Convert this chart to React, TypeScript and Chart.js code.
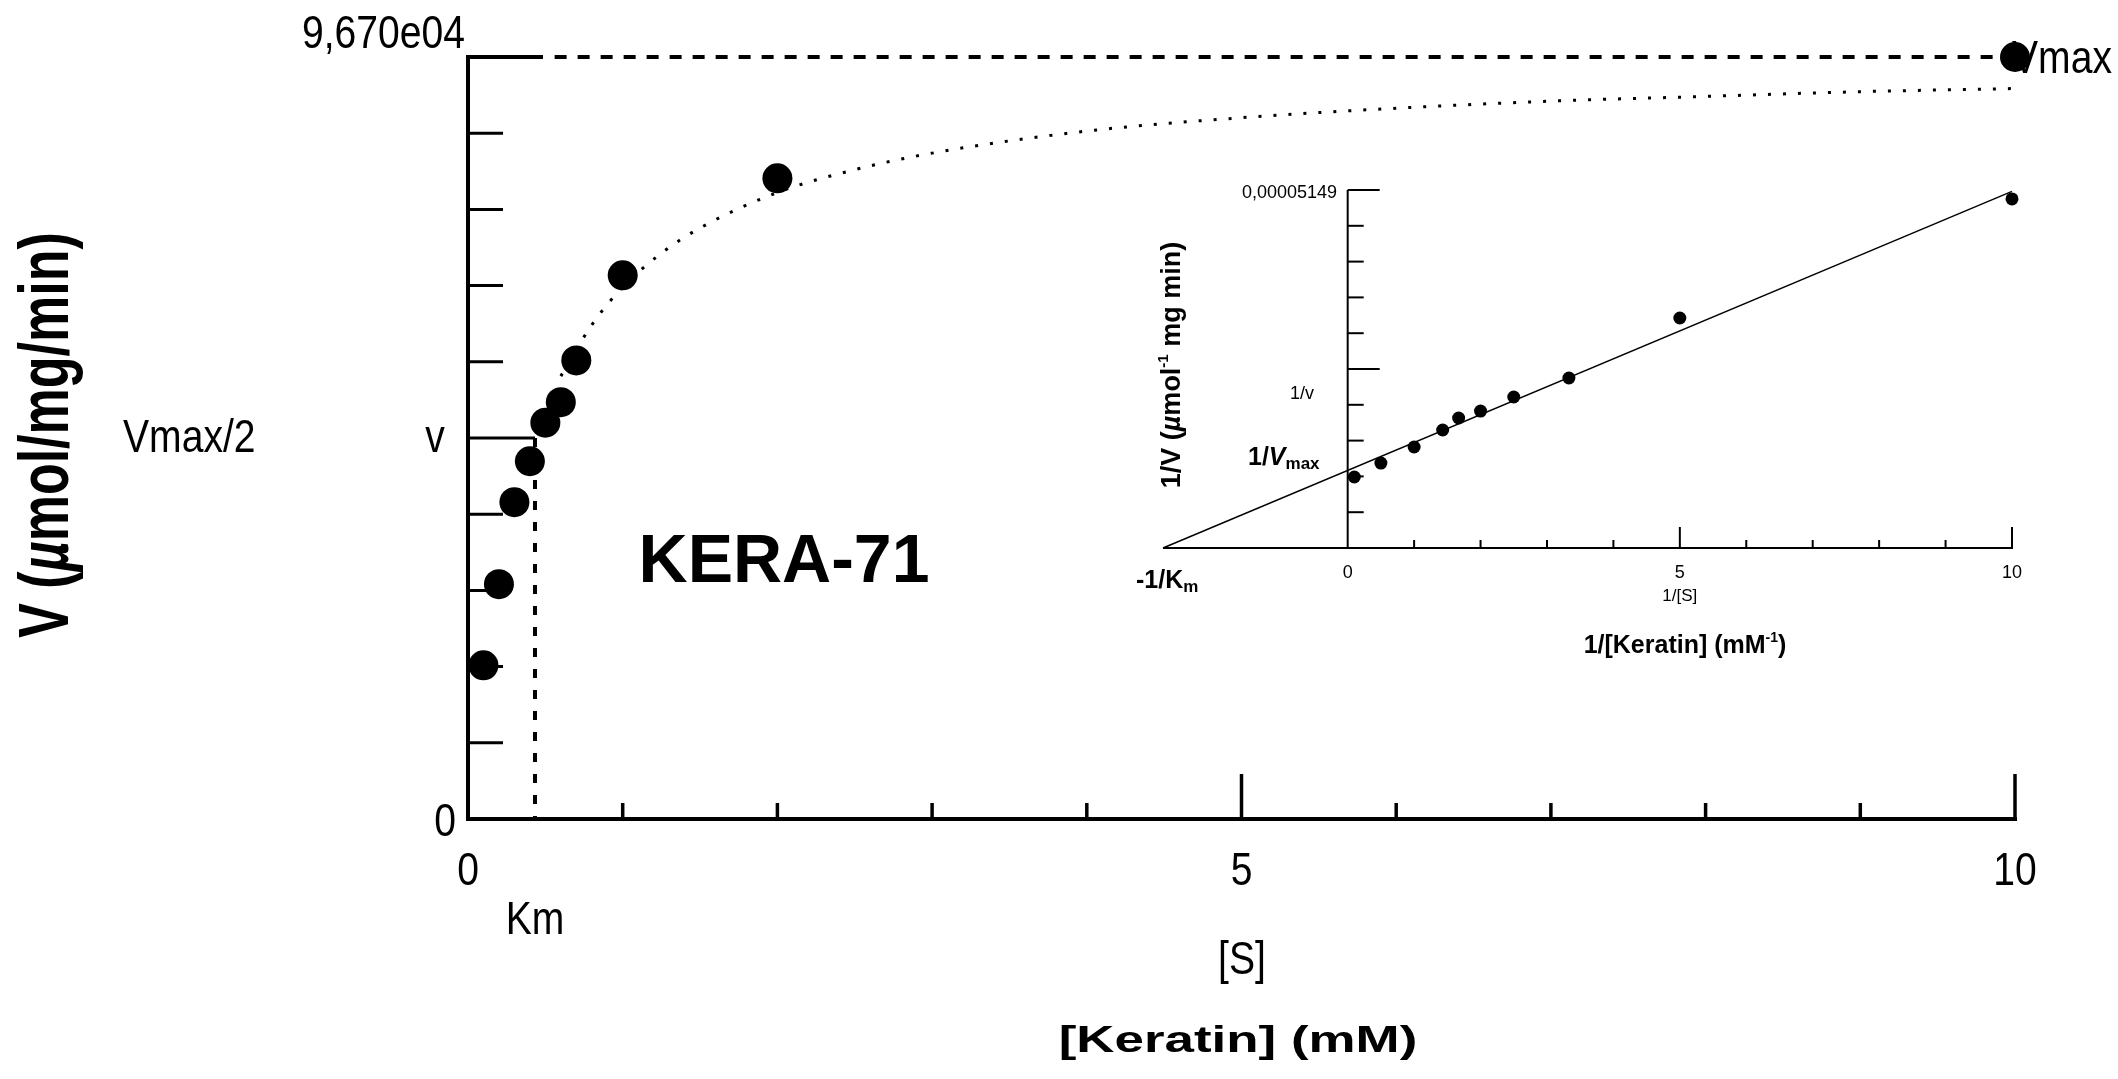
import React, { useEffect, useRef } from "react";
import { Chart, registerables } from "chart.js";

Chart.register(...registerables);

// ---------- Main Michaelis–Menten plot data ----------
const substrateMM = [0.1, 0.2, 0.3, 0.4, 0.5, 0.6, 0.7, 1, 2, 10];
const velocity = [19500, 29800, 40200, 45400, 50300, 52900, 58200, 69000, 81300, 96700];

// dotted fitted curve
const fitS = [0.6, 0.8, 1, 1.25, 1.5, 2, 2.5, 3, 4, 5, 6, 7, 8, 9, 10];
const fitV = [56200, 62700, 67500, 71800, 75000, 79500, 82400, 84500, 87300, 89000, 90200, 91100, 91700, 92300, 92700];

const VMAX = 96700;
const KM = 0.433;
const vmaxLineS = [0.56, 10];
const yMaxMain = 96700;
const xMaxMain = 10;
const yTickStep = 9670;
const xTickLabels = ["0", "5", "10"];
const xTickLabelValues = [0, 5, 10];

// ---------- Inset Lineweaver–Burk plot data ----------
const invS = [0.1, 0.5, 1, 1.43, 1.67, 2, 2.5, 3.33, 5, 10];
const invV = [1.021e-5, 1.222e-5, 1.453e-5, 1.697e-5, 1.87e-5, 1.97e-5, 2.172e-5, 2.445e-5, 3.308e-5, 5.02e-5];
const lbLineX = [-2.78, 10];
const lbLineY = [0, 5.13e-5];
const insetXMin = -2.78;
const insetXMax = 10;
const insetYMax = 0.00005149;
const insetTopLabel = "0,00005149";

// ---------- layout ----------
const W = 2118;
const H = 1079;
const MAIN_PAD = { left: 468, right: 103, top: 57, bottom: 260 };
const INSET = { left: 1100, top: 150, w: 1018, h: 530 };
const INSET_PAD = { left: 63, right: 106, top: 40, bottom: 132 };

const BMP = '46px "Liberation Sans", Arial, sans-serif';
const BMP_SX = 0.85;

type Run = { t: string; font: string; dy?: number };

function drawRuns(
  ctx: CanvasRenderingContext2D,
  parts: Run[],
  x: number,
  y: number,
  align: "left" | "center" | "right",
  sx = 1,
  rot = 0,
  sy = 1
) {
  ctx.save();
  ctx.translate(x, y);
  if (rot) ctx.rotate(rot);
  ctx.scale(sx, sy);
  ctx.fillStyle = "#000";
  ctx.textBaseline = "alphabetic";
  ctx.textAlign = "left";
  let total = 0;
  const widths = parts.map((p) => {
    ctx.font = p.font;
    const w = ctx.measureText(p.t).width;
    total += w;
    return w;
  });
  let cx = align === "center" ? -total / 2 : align === "right" ? -total : 0;
  parts.forEach((p, i) => {
    ctx.font = p.font;
    ctx.fillText(p.t, cx, p.dy || 0);
    cx += widths[i];
  });
  ctx.restore();
}

function txt(
  ctx: CanvasRenderingContext2D,
  s: string,
  x: number,
  y: number,
  font: string,
  align: "left" | "center" | "right" = "left",
  sx = 1
) {
  drawRuns(ctx, [{ t: s, font }], x, y, align, sx);
}

function seg(ctx: CanvasRenderingContext2D, x1: number, y1: number, x2: number, y2: number, w: number) {
  ctx.save();
  ctx.strokeStyle = "#000";
  ctx.lineWidth = w;
  ctx.lineCap = "butt";
  ctx.setLineDash([]);
  ctx.beginPath();
  ctx.moveTo(x1, y1);
  ctx.lineTo(x2, y2);
  ctx.stroke();
  ctx.restore();
}

const mainDecor = {
  id: "mainDecor",
  beforeDatasetsDraw(chart: any) {
    const ctx: CanvasRenderingContext2D = chart.ctx;
    const X = (v: number) => chart.scales.x.getPixelForValue(v);
    const Y = (v: number) => chart.scales.y.getPixelForValue(v);
    // axes
    seg(ctx, X(0), Y(yMaxMain) - 2, X(0), Y(0) + 2, 4);
    seg(ctx, X(0) - 2, Y(0), X(xMaxMain) + 2, Y(0), 4);
    // y ticks
    for (let i = 1; i < 10; i++) {
      const v = i * yTickStep;
      if (i === 5) seg(ctx, X(0), Y(v), X(KM), Y(v), 3);
      else seg(ctx, X(0), Y(v), X(0) + 35, Y(v), 3);
    }
    seg(ctx, X(0), Y(yMaxMain), X(0) + 75, Y(yMaxMain), 4);
    // x ticks (inward)
    for (let i = 1; i <= 10; i++) {
      const len = i % 5 === 0 ? 45 : 16;
      seg(ctx, X(i), Y(0), X(i), Y(0) - len, 3.5);
    }
    // y labels
    txt(ctx, "9,670e04", 465, 48, BMP, "right", BMP_SX);
    txt(ctx, "0", 456, 836, BMP, "right", BMP_SX);
    txt(ctx, "Vmax/2", 123, 452, BMP, "left", BMP_SX);
    txt(ctx, "v", 435, 452, BMP, "center", BMP_SX);
    txt(ctx, "Vmax", 2012, 73, BMP, "left", BMP_SX);
    // x labels
    xTickLabels.forEach((s, i) => txt(ctx, s, X(xTickLabelValues[i]), 885, BMP, "center", BMP_SX));
    txt(ctx, "Km", X(KM), 934, BMP, "center", BMP_SX);
    txt(ctx, "[S]", 1242, 974, BMP, "center", BMP_SX);
    // axis titles
    drawRuns(
      ctx,
      [{ t: "[Keratin] (mM)", font: 'bold 37px "Liberation Sans", Arial, sans-serif' }],
      1238,
      1052,
      "center",
      1.43
    );
    drawRuns(
      ctx,
      [
        { t: "V (", font: 'bold 52px "Liberation Sans", Arial, sans-serif' },
        { t: "\u00b5", font: 'italic bold 52px "Liberation Sans", Arial, sans-serif' },
        { t: "mol/mg/min)", font: 'bold 52px "Liberation Sans", Arial, sans-serif' },
      ],
      68,
      435,
      "center",
      1,
      -Math.PI / 2,
      1.35
    );
    drawRuns(ctx, [{ t: "KERA-71", font: 'bold 68px "Liberation Sans", Arial, sans-serif' }], 784, 582, "center");
  },
};

const insetDecor = {
  id: "insetDecor",
  beforeDatasetsDraw(chart: any) {
    const ctx: CanvasRenderingContext2D = chart.ctx;
    const X = (v: number) => chart.scales.x.getPixelForValue(v);
    const Y = (v: number) => chart.scales.y.getPixelForValue(v);
    seg(ctx, X(0), Y(insetYMax), X(0), Y(0) + 1, 2);
    seg(ctx, X(insetXMin), Y(0), X(insetXMax) + 1, Y(0), 2);
    for (let i = 1; i <= 10; i++) {
      const v = (insetYMax * i) / 10;
      const len = i === 5 || i === 10 ? 32 : 16;
      seg(ctx, X(0), Y(v), X(0) + len, Y(v), 2);
    }
    for (let i = 1; i <= 10; i++) {
      const len = i % 5 === 0 ? 21 : 8;
      seg(ctx, X(i), Y(0), X(i), Y(0) - len, 2);
    }
    ctx.save();
    ctx.translate(-INSET.left, -INSET.top);
    const F = '18px "Liberation Sans", Arial, sans-serif';
    const B25 = 'bold 25px "Liberation Sans", Arial, sans-serif';
    const B17 = 'bold 17px "Liberation Sans", Arial, sans-serif';
    txt(ctx, insetTopLabel, 1337, 198, F, "right");
    txt(ctx, "1/v", 1290, 399, F, "left");
    drawRuns(
      ctx,
      [
        { t: "1/", font: B25 },
        { t: "V", font: 'italic bold 25px "Liberation Sans", Arial, sans-serif' },
        { t: "max", font: B17, dy: 4 },
      ],
      1248,
      465,
      "left"
    );
    drawRuns(ctx, [{ t: "-1/K", font: B25 }, { t: "m", font: B17, dy: 4 }], 1136, 588, "left");
    ["0", "5", "10"].forEach((s, i) => txt(ctx, s, X([0, 5, 10][i]) + INSET.left, 578, F, "center"));
    txt(ctx, "1/[S]", X(5) + INSET.left, 601, '17px "Liberation Sans", Arial, sans-serif', "center");
    drawRuns(
      ctx,
      [
        { t: "1/[Keratin] (mM", font: B25 },
        { t: "-1", font: 'bold 14px "Liberation Sans", Arial, sans-serif', dy: -11 },
        { t: ")", font: B25 },
      ],
      1685,
      653,
      "center"
    );
    const B27 = 'bold 27px "Liberation Sans", Arial, sans-serif';
    drawRuns(
      ctx,
      [
        { t: "1/V (", font: B27 },
        { t: "\u00b5", font: 'italic bold 27px "Liberation Sans", Arial, sans-serif' },
        { t: "mol", font: B27 },
        { t: "-1", font: 'bold 15px "Liberation Sans", Arial, sans-serif', dy: -12 },
        { t: " mg min)", font: B27 },
      ],
      1180,
      365,
      "center",
      1,
      -Math.PI / 2
    );
    ctx.restore();
  },
};

export default function App() {
  const mainRef = useRef<HTMLCanvasElement>(null);
  const insetRef = useRef<HTMLCanvasElement>(null);

  useEffect(() => {
    if (!mainRef.current || !insetRef.current) return;
    const points = substrateMM.map((s, i) => ({ x: s, y: velocity[i] }));
    const fit = fitS.map((s, i) => ({ x: s, y: fitV[i] }));
    const vmaxLine = vmaxLineS.map((s) => ({ x: s, y: VMAX }));
    const kmLine = [
      { x: KM, y: VMAX / 2 },
      { x: KM, y: 0 },
    ];

    const main = new Chart(mainRef.current, {
      type: "scatter",
      data: {
        datasets: [
          {
            data: points,
            pointRadius: 15,
            pointHoverRadius: 15,
            backgroundColor: "#000",
            borderWidth: 0,
            showLine: false,
            order: 0,
            clip: false,
          } as any,
          {
            data: fit,
            showLine: true,
            pointRadius: 0,
            borderColor: "#000",
            borderWidth: 3,
            borderDash: [3, 12],
            cubicInterpolationMode: "monotone",
            order: 1,
            clip: false,
          } as any,
          {
            data: vmaxLine,
            showLine: true,
            pointRadius: 0,
            borderColor: "#000",
            borderWidth: 4,
            borderDash: [12, 11],
            order: 2,
            clip: false,
          } as any,
          {
            data: kmLine,
            showLine: true,
            pointRadius: 0,
            borderColor: "#000",
            borderWidth: 4,
            borderDash: [9, 12],
            order: 3,
            clip: false,
          } as any,
        ],
      },
      options: {
        responsive: false,
        animation: false,
        events: [],
        layout: { padding: MAIN_PAD },
        plugins: { legend: { display: false }, tooltip: { enabled: false } },
        scales: {
          x: { type: "linear", min: 0, max: xMaxMain, display: false },
          y: { type: "linear", min: 0, max: yMaxMain, display: false },
        },
      },
      plugins: [mainDecor],
    });

    const inset = new Chart(insetRef.current, {
      type: "scatter",
      data: {
        datasets: [
          {
            data: invS.map((s, i) => ({ x: s, y: invV[i] })),
            pointRadius: 6.5,
            pointHoverRadius: 6.5,
            backgroundColor: "#000",
            borderWidth: 0,
            order: 0,
            clip: false,
          } as any,
          {
            data: lbLineX.map((x, i) => ({ x, y: lbLineY[i] })),
            showLine: true,
            pointRadius: 0,
            borderColor: "#000",
            borderWidth: 1.4,
            order: 1,
            clip: false,
          } as any,
        ],
      },
      options: {
        responsive: false,
        animation: false,
        events: [],
        layout: { padding: INSET_PAD },
        plugins: { legend: { display: false }, tooltip: { enabled: false } },
        scales: {
          x: { type: "linear", min: insetXMin, max: insetXMax, display: false },
          y: { type: "linear", min: 0, max: insetYMax, display: false },
        },
      },
      plugins: [insetDecor],
    });

    return () => {
      main.destroy();
      inset.destroy();
    };
  }, []);

  return (
    <div style={{ position: "absolute", left: 0, top: 0, width: W, height: H, background: "#fff", overflow: "hidden" }}>
      <canvas ref={mainRef} width={W} height={H} style={{ position: "absolute", left: 0, top: 0, display: "block" }} />
      <canvas
        ref={insetRef}
        width={INSET.w}
        height={INSET.h}
        style={{ position: "absolute", left: INSET.left, top: INSET.top, display: "block" }}
      />
    </div>
  );
}
